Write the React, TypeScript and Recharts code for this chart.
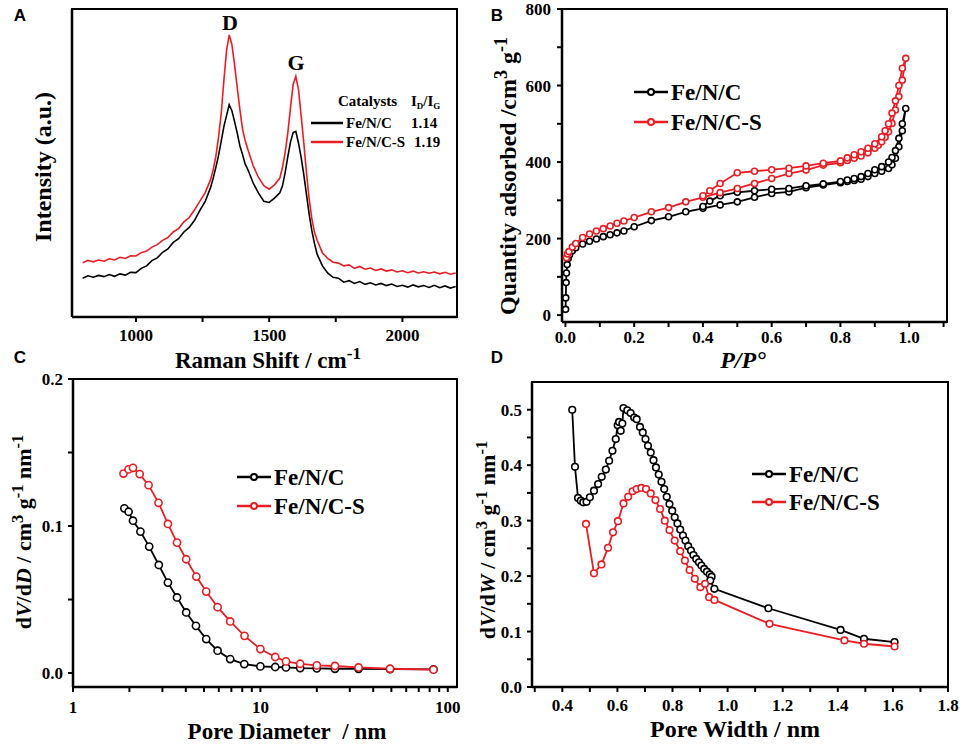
import React from 'react';
import { LineChart, Line, XAxis, YAxis } from 'recharts';

// ---- Panel A: Raman spectra ----
const ramanShift = [800,820,840,860,880,900,920,940,960,980,1000,1020,1040,1060,1080,1100,1120,1140,1160,1180,1200,1220,1240,1260,1280,1290,1300,1310,1320,1330,1340,1350,1360,1370,1380,1390,1400,1410,1420,1440,1460,1480,1500,1520,1540,1550,1560,1570,1580,1590,1600,1610,1620,1630,1640,1650,1660,1670,1680,1700,1720,1740,1760,1780,1800,1820,1840,1860,1880,1900,1920,1940,1960,1980,2000,2020,2040,2060,2080,2100,2120,2140,2160,2180,2200];
const ramanFeNC = [12.6,13.4,12.9,13.5,13.1,13.8,13.2,14.0,13.6,14.5,14.4,15.8,16.6,18.3,19.2,21.0,22.1,24.2,25.4,27.6,29.1,31.4,34.6,37.5,42.0,
  45.1,48.6,52.5,57.0,61.8,65.4,68.9,67.0,63.5,59.8,55.6,52.8,49.6,47.9,
  43.5,40.2,37.6,37.2,38.6,
  40.3,42.6,46.9,52.1,56.8,59.9,60.3,56.5,51.8,46.2,39.8,33.5,28.1,23.9,20.4,
  16.6,14.2,12.9,12.6,11.3,11.8,10.9,11.5,10.6,11.1,10.4,10.9,10.2,10.7,9.9,10.3,9.7,10.4,9.8,10.2,9.6,10.3,9.5,10.1,9.4,9.9];
const ramanFeNCS = [17.6,18.4,17.9,18.5,18.1,18.9,18.5,19.4,19.0,19.9,19.8,20.9,21.4,22.7,23.5,24.9,25.8,27.6,28.7,30.9,32.3,34.8,37.6,40.4,44.6,
  47.8,52.2,58.4,66.0,76.8,86.5,91.6,88.5,82.0,74.6,67.4,61.0,57.2,54.4,
  49.1,45.3,42.6,41.5,42.9,
  45.1,48.6,53.4,59.8,68.0,75.5,78.1,73.9,65.4,56.5,46.9,38.4,32.0,27.6,24.9,
  20.8,19.0,17.8,17.5,16.6,16.9,15.8,16.4,15.5,15.9,15.1,15.6,14.9,15.3,14.6,15.0,14.4,14.9,14.3,14.7,14.2,14.6,14.0,14.5,13.9,14.3];
const ramanTicks = [1000, 1250, 1500, 1750, 2000];

// ---- Panel B: N2 isotherms (adsorption then desorption) ----
const bAdsP_FeNC = [0.0005,0.001,0.002,0.003,0.005,0.008,0.012,0.02,0.03,0.05,0.07,0.09,0.11,0.13,0.15,0.17,0.2,0.25,0.3,0.35,0.4,0.45,0.5,0.55,0.6,0.65,0.7,0.75,0.8,0.82,0.84,0.86,0.88,0.9,0.92,0.94,0.95,0.96,0.97,0.98,0.99];
const bAdsQ_FeNC = [15,45,85,110,132,148,158,168,176,186,193,199,205,210,215,220,231,247,257,270,279,288,296,308,318,322,333,340,346,349,352,355,362,370,376,383,393,410,440,482,540];
const bDesP_FeNC = [0.98,0.97,0.96,0.95,0.94,0.92,0.9,0.88,0.86,0.84,0.82,0.8,0.75,0.7,0.65,0.6,0.55,0.5,0.45,0.42,0.4];
const bDesQ_FeNC = [500,462,430,412,400,388,380,370,362,357,353,349,343,338,331,329,325,321,312,298,284];
const bAdsP_FeNCS = [0.003,0.006,0.01,0.02,0.03,0.05,0.07,0.09,0.11,0.13,0.15,0.17,0.2,0.25,0.3,0.35,0.4,0.45,0.5,0.55,0.6,0.65,0.7,0.75,0.8,0.82,0.84,0.86,0.88,0.9,0.91,0.92,0.93,0.94,0.95,0.96,0.97,0.98,0.99];
const bAdsQ_FeNCS = [150,160,166,178,187,203,212,220,226,233,240,246,255,270,281,296,308,320,331,344,357,370,379,392,398,404,410,416,424,436,444,453,465,479,501,536,571,614,671];
const bDesP_FeNCS = [0.98,0.97,0.96,0.95,0.94,0.93,0.92,0.9,0.88,0.86,0.84,0.82,0.8,0.75,0.7,0.65,0.6,0.55,0.5,0.45,0.42,0.4];
const bDesQ_FeNCS = [645,600,560,528,500,482,466,448,436,427,419,411,403,397,390,384,380,376,372,344,325,312];
const bTicksX = [0,0.1,0.2,0.3,0.4,0.5,0.6,0.7,0.8,0.9,1.0,1.1];
const bTicksY = [0,100,200,300,400,500,600,700,800];

// ---- Panel C: BJH pore size distribution ----
const cDiam_FeNC = [1.88,1.98,2.09,2.29,2.55,2.87,3.21,3.59,4.02,4.53,5.14,5.91,6.9,8.2,10.0,12.0,13.7,16.3,20.0,25.0,33.4,49.2,83.9];
const cDvdD_FeNC = [0.112,0.1097,0.1036,0.0962,0.086,0.0735,0.0615,0.0514,0.0412,0.0321,0.0231,0.0152,0.0095,0.0061,0.0045,0.0041,0.0038,0.0034,0.0032,0.0029,0.0029,0.0027,0.0025];
const cDiam_FeNCS = [1.86,1.98,2.09,2.27,2.53,2.86,3.21,3.59,4.02,4.55,5.14,5.91,6.9,8.23,10.0,12.0,13.7,16.3,20.0,25.0,33.4,49.2,83.9];
const cDvdD_FeNCS = [0.1357,0.1385,0.1396,0.1353,0.1278,0.1158,0.1014,0.0887,0.0774,0.0656,0.0554,0.0448,0.0351,0.0253,0.0163,0.0109,0.0079,0.0063,0.0052,0.0048,0.0038,0.0029,0.0023];
const cTicksX = [1,2,3,4,5,6,7,8,9,10,20,30,40,50,60,70,80,90,100];
const cTicksY = [0,0.05,0.1,0.15,0.2];

// ---- Panel D: micropore distribution ----
const dWidth_FeNC = [0.436,0.446,0.457,0.467,0.476,0.488,0.50,0.515,0.53,0.543,0.558,0.57,0.582,0.594,0.601,0.606,0.612,0.618,0.622,0.636,0.648,0.661,0.67,0.682,0.692,0.702,0.711,0.721,0.731,0.74,0.75,0.76,0.77,0.779,0.789,0.799,0.808,0.818,0.828,0.838,0.847,0.857,0.867,0.876,0.886,0.896,0.905,0.915,0.925,0.935,0.942,0.937,0.952,1.148,1.41,1.495,1.606];
const dDvdW_FeNC = [0.500,0.397,0.341,0.336,0.333,0.334,0.342,0.354,0.366,0.379,0.392,0.408,0.426,0.447,0.472,0.478,0.462,0.475,0.503,0.499,0.494,0.486,0.483,0.469,0.459,0.447,0.435,0.423,0.409,0.396,0.383,0.370,0.357,0.343,0.330,0.318,0.306,0.295,0.284,0.273,0.264,0.254,0.246,0.238,0.231,0.225,0.219,0.213,0.208,0.203,0.199,0.192,0.177,0.142,0.103,0.087,0.081];
const dWidth_FeNCS = [0.486,0.515,0.542,0.566,0.584,0.602,0.622,0.639,0.655,0.67,0.687,0.704,0.721,0.738,0.755,0.772,0.789,0.808,0.828,0.845,0.862,0.881,0.901,0.918,0.933,0.952,1.152,1.424,1.495,1.606];
const dDvdW_FeNCS = [0.294,0.205,0.221,0.251,0.279,0.299,0.331,0.343,0.353,0.357,0.359,0.357,0.349,0.337,0.321,0.300,0.283,0.264,0.245,0.228,0.211,0.195,0.180,0.186,0.162,0.157,0.114,0.084,0.078,0.073];
const dTicksX = [0.3,0.4,0.5,0.6,0.7,0.8,0.9,1.0,1.1,1.2,1.3,1.4,1.5,1.6,1.7,1.8];
const dTicksY = [0,0.05,0.1,0.15,0.2,0.25,0.3,0.35,0.4,0.45,0.5];

const BLACK = '#000';
const RED = '#ec1c24';
const serif = '"Liberation Serif", "Times New Roman", serif';
const sans = '"Liberation Sans", Arial, sans-serif';

const axisLine = { stroke: BLACK, strokeWidth: 2.5 };
const tickLine = { stroke: BLACK, strokeWidth: 2 };
const tickStyle = { fill: BLACK, fontFamily: serif, fontWeight: 700, fontSize: 17 };

const pairs = (xs: number[], ys: number[]) => xs.map((x, i) => ({ x, y: ys[i] }));

const ramanRows = ramanShift.map((x, i) => ({ x, a: ramanFeNC[i], b: ramanFeNCS[i] }));
const bFeNC = [...pairs(bAdsP_FeNC, bAdsQ_FeNC), ...pairs(bDesP_FeNC, bDesQ_FeNC)];
const bFeNCS = [...pairs(bAdsP_FeNCS, bAdsQ_FeNCS), ...pairs(bDesP_FeNCS, bDesQ_FeNCS)];
const cFeNC = pairs(cDiam_FeNC, cDvdD_FeNC);
const cFeNCS = pairs(cDiam_FeNCS, cDvdD_FeNCS);
const dFeNC = pairs(dWidth_FeNC, dDvdW_FeNC);
const dFeNCS = pairs(dWidth_FeNCS, dDvdW_FeNCS);

const even1 = (v: number) => (Math.round(v * 10) % 2 === 0 ? v.toFixed(1) : '');

// panel placement: chart box and the plot frame inside it
const W = 480;
type Panel = { left: number; top: number; h: number; plotL: number; plotT: number; plotR: number; plotB: number };
const panelA: Panel = { left: 0, top: 0, h: 370, plotL: 72, plotT: 9, plotR: 457, plotB: 317 };
const panelB: Panel = { left: 480, top: 0, h: 370, plotL: 82, plotT: 9, plotR: 467, plotB: 322 };
const panelC: Panel = { left: 0, top: 370, h: 375, plotL: 73, plotT: 9, plotR: 457, plotB: 317 };
const panelD: Panel = { left: 480, top: 370, h: 375, plotL: 52, plotT: 12, plotR: 468, plotB: 317 };

const marginOf = (p: Panel) => ({ top: p.plotT, right: W - p.plotR, bottom: 0, left: 0 });

// top + right edges of the boxed axes
function Frame({ p }: { p: Panel }) {
  return (
    <div
      style={{
        position: 'absolute',
        left: p.left + p.plotL - 1,
        top: p.top + p.plotT - 1.25,
        width: p.plotR - p.plotL,
        height: p.plotB - p.plotT,
        borderTop: '2.5px solid #000',
        borderRight: '2.5px solid #000',
        pointerEvents: 'none',
      }}
    />
  );
}

function Txt({ x, y, size = 24, rotate = false, italic = false, font = serif, children }: any) {
  return (
    <div
      style={{
        position: 'absolute',
        left: x,
        top: y,
        transform: `translate(-50%, -50%)${rotate ? ' rotate(-90deg)' : ''}`,
        whiteSpace: 'nowrap',
        fontFamily: font,
        fontWeight: 700,
        fontStyle: italic ? 'italic' : 'normal',
        fontSize: size,
        lineHeight: 1,
        color: BLACK,
      }}
    >
      {children}
    </div>
  );
}

const Sup = ({ children }: any) => (
  <span style={{ fontSize: '0.75em', position: 'relative', top: '-0.5em' }}>{children}</span>
);
const Sub = ({ children }: any) => (
  <span style={{ fontSize: '0.6em', position: 'relative', top: '0.3em' }}>{children}</span>
);

function Key({ x, y, color, label, size = 23, marker = true, len = 34 }: any) {
  return (
    <div style={{ position: 'absolute', left: x, top: y - 12, height: 24, display: 'flex', alignItems: 'center' }}>
      <svg width={len} height={12} style={{ display: 'block' }}>
        <line x1={0} y1={6} x2={len} y2={6} stroke={color} strokeWidth={2.5} />
        {marker && <circle cx={len / 2} cy={6} r={3} fill="#fff" stroke={color} strokeWidth={2} />}
      </svg>
      <span style={{ fontFamily: serif, fontWeight: 700, fontSize: size, marginLeft: 3, lineHeight: 1 }}>{label}</span>
    </div>
  );
}

const dotStyle = (color: string, r: number) => ({ r, stroke: color, strokeWidth: 1.6, fill: '#fff' });

export default function App() {
  return (
    <div style={{ position: 'absolute', left: 0, top: 0, width: 960, height: 745, background: '#fff', overflow: 'hidden' }}>
      {/* A */}
      <div style={{ position: 'absolute', left: panelA.left, top: panelA.top }}>
        <LineChart width={W} height={panelA.h} data={ramanRows} margin={marginOf(panelA)}>
          <XAxis dataKey="x" type="number" domain={[760, 2205]} allowDataOverflow ticks={ramanTicks} interval={0}
            tickFormatter={(v: number) => (v % 500 === 0 ? String(v) : '')}
            height={panelA.h - panelA.plotB} axisLine={axisLine} tickLine={tickLine} tickSize={5} tickMargin={7} tick={tickStyle} />
          <YAxis type="number" domain={[0, 100]} width={panelA.plotL} tick={false} tickLine={false} axisLine={axisLine} />
          <Line dataKey="a" type="linear" stroke={BLACK} strokeWidth={1.6} dot={false} isAnimationActive={false} />
          <Line dataKey="b" type="linear" stroke={RED} strokeWidth={1.6} dot={false} isAnimationActive={false} />
        </LineChart>
      </div>

      {/* B */}
      <div style={{ position: 'absolute', left: panelB.left, top: panelB.top }}>
        <LineChart width={W} height={panelB.h} margin={marginOf(panelB)}>
          <XAxis dataKey="x" type="number" domain={[-0.01, 1.11]} allowDataOverflow ticks={bTicksX} interval={0}
            tickFormatter={even1} height={panelB.h - panelB.plotB} axisLine={axisLine} tickLine={tickLine} tickSize={5} tickMargin={4} tick={tickStyle} />
          <YAxis dataKey="y" type="number" domain={[-18, 800]} allowDataOverflow ticks={bTicksY} interval={0}
            tickFormatter={(v: number) => (v % 200 === 0 ? String(v) : '')}
            width={panelB.plotL} axisLine={axisLine} tickLine={tickLine} tickSize={5} tickMargin={6} tick={tickStyle} />
          <Line data={bFeNC} dataKey="y" type="linear" stroke={BLACK} strokeWidth={1.8} dot={dotStyle(BLACK, 3)} isAnimationActive={false} />
          <Line data={bFeNCS} dataKey="y" type="linear" stroke={RED} strokeWidth={1.8} dot={dotStyle(RED, 3)} isAnimationActive={false} />
        </LineChart>
      </div>

      {/* C */}
      <div style={{ position: 'absolute', left: panelC.left, top: panelC.top }}>
        <LineChart width={W} height={panelC.h} margin={marginOf(panelC)}>
          <XAxis dataKey="x" type="number" scale="log" domain={[1, 112]} allowDataOverflow ticks={cTicksX} interval={0}
            tickFormatter={(v: number) => (v === 1 || v === 10 || v === 100 ? String(v) : '')}
            height={panelC.h - panelC.plotB} axisLine={axisLine} tickLine={tickLine} tickSize={5} tickMargin={9} tick={tickStyle} />
          <YAxis dataKey="y" type="number" domain={[-0.0095, 0.2]} allowDataOverflow ticks={cTicksY} interval={0}
            tickFormatter={(v: number) => (Math.round(v * 100) % 10 === 0 ? v.toFixed(1) : '')}
            width={panelC.plotL} axisLine={axisLine} tickLine={tickLine} tickSize={5} tickMargin={5} tick={tickStyle} />
          <Line data={cFeNC} dataKey="y" type="linear" stroke={BLACK} strokeWidth={1.8} dot={dotStyle(BLACK, 3.6)} isAnimationActive={false} />
          <Line data={cFeNCS} dataKey="y" type="linear" stroke={RED} strokeWidth={1.8} dot={dotStyle(RED, 3.6)} isAnimationActive={false} />
        </LineChart>
      </div>

      {/* D */}
      <div style={{ position: 'absolute', left: panelD.left, top: panelD.top }}>
        <LineChart width={W} height={panelD.h} margin={marginOf(panelD)}>
          <XAxis dataKey="x" type="number" domain={[0.29, 1.8]} allowDataOverflow ticks={dTicksX} interval={0}
            tickFormatter={even1} height={panelD.h - panelD.plotB} axisLine={axisLine} tickLine={tickLine} tickSize={5} tickMargin={7} tick={tickStyle} />
          <YAxis dataKey="y" type="number" domain={[0, 0.55]} allowDataOverflow ticks={dTicksY} interval={0}
            tickFormatter={(v: number) => (Math.round(v * 100) % 10 === 0 ? v.toFixed(1) : '')}
            width={panelD.plotL} axisLine={axisLine} tickLine={tickLine} tickSize={5} tickMargin={5} tick={tickStyle} />
          <Line data={dFeNC} dataKey="y" type="linear" stroke={BLACK} strokeWidth={1.8} dot={dotStyle(BLACK, 3.3)} isAnimationActive={false} />
          <Line data={dFeNCS} dataKey="y" type="linear" stroke={RED} strokeWidth={1.8} dot={dotStyle(RED, 3.3)} isAnimationActive={false} />
        </LineChart>
      </div>

      <Frame p={panelA} />
      <Frame p={panelB} />
      <Frame p={panelC} />
      <Frame p={panelD} />

      {/* panel letters */}
      <Txt x={20} y={15} size={17} font={sans}>A</Txt>
      <Txt x={497} y={15} size={17} font={sans}>B</Txt>
      <Txt x={20} y={357} size={17} font={sans}>C</Txt>
      <Txt x={497} y={357} size={17} font={sans}>D</Txt>

      {/* A texts */}
      <Txt x={230} y={23} size={22}>D</Txt>
      <Txt x={296} y={63} size={22}>G</Txt>
      <Txt x={43} y={167} size={24} rotate>Intensity (a.u.)</Txt>
      <Txt x={268} y={360} size={23}>Raman Shift / cm<Sup>-1</Sup></Txt>
      <div style={{ position: 'absolute', left: 338, top: 94, fontFamily: serif, fontWeight: 700, fontSize: 15, lineHeight: 1 }}>Catalysts</div>
      <div style={{ position: 'absolute', left: 411, top: 94, fontFamily: serif, fontWeight: 700, fontSize: 15, lineHeight: 1 }}>I<Sub>D</Sub>/I<Sub>G</Sub></div>
      <Key x={311} y={123} color={BLACK} label="Fe/N/C" size={15} marker={false} len={32} />
      <Key x={311} y={142} color={RED} label="Fe/N/C-S" size={15} marker={false} len={32} />
      <div style={{ position: 'absolute', left: 411, top: 116, fontFamily: serif, fontWeight: 700, fontSize: 15, lineHeight: 1 }}>1.14</div>
      <div style={{ position: 'absolute', left: 414, top: 135, fontFamily: serif, fontWeight: 700, fontSize: 15, lineHeight: 1 }}>1.19</div>

      {/* B texts */}
      <Txt x={508} y={176} size={24} rotate>Quantity adsorbed /cm<Sup>3</Sup> g<Sup>-1</Sup></Txt>
      <Txt x={743} y={360} size={24} italic>P/P°</Txt>
      <Key x={634} y={92} color={BLACK} label="Fe/N/C" />
      <Key x={634} y={122} color={RED} label="Fe/N/C-S" />

      {/* C texts */}
      <Txt x={24} y={532} size={22} rotate>d<i>V</i>/d<i>D</i> / cm<Sup>3</Sup> g<Sup>-1</Sup> nm<Sup>-1</Sup></Txt>
      <Txt x={287} y={731} size={23}>Pore Diameter&nbsp;&nbsp;/ nm</Txt>
      <Key x={237} y={477} color={BLACK} label="Fe/N/C" />
      <Key x={237} y={506} color={RED} label="Fe/N/C-S" />

      {/* D texts */}
      <Txt x={488} y={540} size={22} rotate>d<i>V</i>/d<i>W</i> / cm<Sup>3</Sup> g<Sup>-1</Sup> nm<Sup>-1</Sup></Txt>
      <Txt x={735} y={729} size={24}>Pore Width / nm</Txt>
      <Key x={752} y={474} color={BLACK} label="Fe/N/C" />
      <Key x={752} y={502} color={RED} label="Fe/N/C-S" />
    </div>
  );
}
